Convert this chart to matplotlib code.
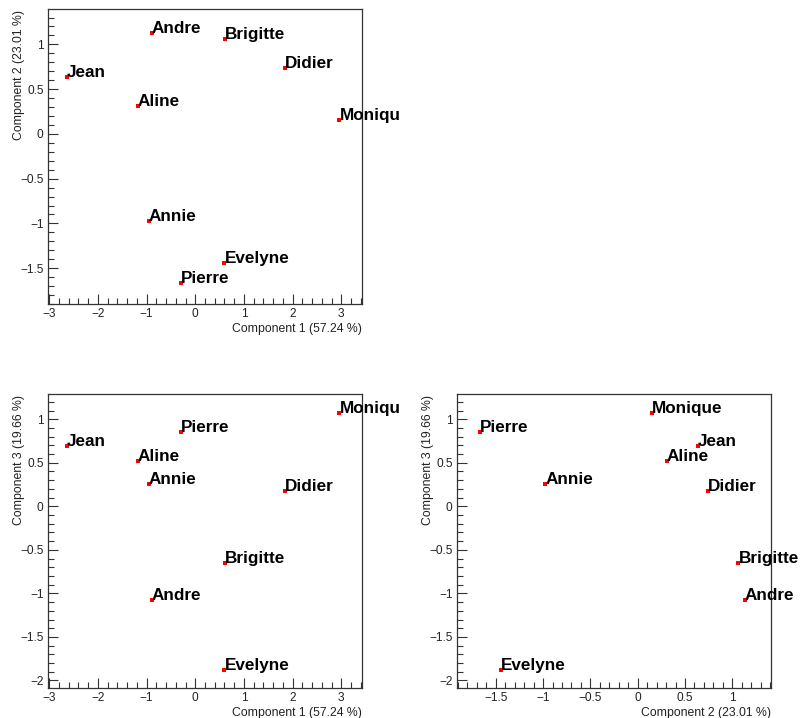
import matplotlib
matplotlib.use("Agg")
import matplotlib.pyplot as plt
from matplotlib.ticker import MultipleLocator, FuncFormatter
from matplotlib.transforms import Bbox, TransformedBbox

names = ["Jean", "Aline", "Annie", "Monique", "Didier", "Andre", "Pierre", "Brigitte", "Evelyne"]
comp1 = [-2.63, -1.18, -0.95, 2.96, 1.85, -0.89, -0.29, 0.61, 0.60]
comp2 = [0.635, 0.31, -0.975, 0.155, 0.74, 1.13, -1.668, 1.065, -1.442]
comp3 = [0.693, 0.517, 0.26, 1.069, 0.172, -1.077, 0.857, -0.655, -1.88]

xlabel1 = "Component 1 (57.24 %)"
xlabel2 = "Component 2 (23.01 %)"
ylabel2 = "Component 2 (23.01 %)"
ylabel3 = "Component 3 (19.66 %)"

W, H = 803, 718
fig = plt.figure(figsize=(W / 100, H / 100), dpi=100)
plt.rcParams['font.family'] = ['Liberation Sans', 'DejaVu Sans']


def px_axes(l, r, t, b):
    return fig.add_axes([l / W, 1 - b / H, (r - l) / W, (b - t) / H])


def fmt(v, pos):
    s = ("%g" % round(v, 6))
    return s.replace("-", "\u2212")


def style(ax, xlim, ylim, xmaj, xmin, ymaj, ymin, xlab, ylab, left_px, width_px):
    ax.set_xlim(*xlim)
    ax.set_ylim(*ylim)
    ax.xaxis.set_major_locator(MultipleLocator(xmaj))
    ax.xaxis.set_minor_locator(MultipleLocator(xmin))
    ax.yaxis.set_major_locator(MultipleLocator(ymaj))
    ax.yaxis.set_minor_locator(MultipleLocator(ymin))
    ax.xaxis.set_major_formatter(FuncFormatter(fmt))
    ax.yaxis.set_major_formatter(FuncFormatter(fmt))
    ax.tick_params(which="both", direction="in", top=False, right=False,
                   labelsize=8.6, width=0.8, color="#333333", labelcolor="#222222")
    ax.tick_params(which="major", length=7, pad=3)
    ax.tick_params(which="minor", length=4)
    for sp in ax.spines.values():
        sp.set_linewidth(0.9)
        sp.set_color("#333333")
    ax.set_xlabel(xlab, fontsize=8.8, color="#222222", loc="right", labelpad=2)
    ax.set_ylabel(ylab, fontsize=8.8, color="#222222", loc="top")
    ax.yaxis.set_label_coords((left_px + 12.5 - left_px - 0) / width_px - 35.0 / width_px, 0.995)


def draw(ax, xs, ys, clip_px):
    ax.scatter(xs, ys, s=5, marker="s", color="red", zorder=3, linewidths=0)
    clip = TransformedBbox(Bbox([[clip_px[0] / W, 1 - clip_px[3] / H],
                                 [clip_px[1] / W, 1 - clip_px[2] / H]]), fig.transFigure)
    for n, x, y in zip(names, xs, ys):
        t = ax.text(x, y, n, fontsize=12.3, fontweight="bold", ha="left", va="baseline",
                    color="black", zorder=4)
        t.set_clip_on(True)
        t.set_clip_box(clip)


ax1 = px_axes(47.7, 362.3, 9, 304)
style(ax1, (-3.03, 3.43), (-1.9, 1.395), 1, 0.2, 0.5, 0.1, xlabel1, ylabel2, 47.7, 314.6)
draw(ax1, comp1, comp2, (0, 400, 0, 359))

ax2 = px_axes(47.7, 362.3, 394, 688.3)
style(ax2, (-3.03, 3.43), (-2.09, 1.29), 1, 0.2, 0.5, 0.1, xlabel1, ylabel3, 47.7, 314.6)
draw(ax2, comp1, comp3, (0, 400, 359, 718))

ax3 = px_axes(456.7, 771, 394, 688.3)
style(ax3, (-1.913, 1.409), (-2.09, 1.29), 0.5, 0.1, 0.5, 0.1, xlabel2, ylabel3, 456.7, 314.3)
draw(ax3, comp2, comp3, (401, 803, 359, 718))

fig.savefig("out.png", dpi=100)
